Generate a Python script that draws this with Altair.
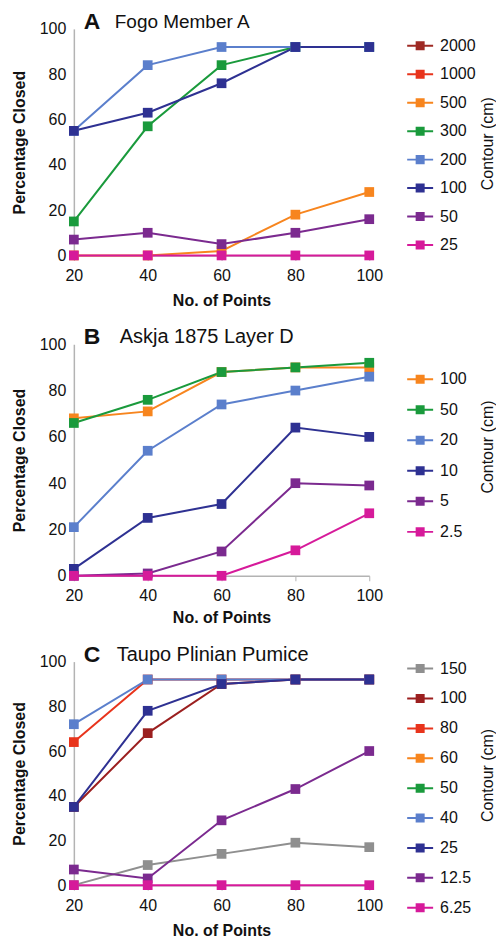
import altair as alt
import pandas as pd

FONT = "Liberation Sans"
x_points = [20, 40, 60, 80, 100]
y_ticks = [0, 20, 40, 60, 80, 100]

# Panel A: Fogo Member A
a_contours = ["2000", "1000", "500", "300", "200", "100", "50", "25"]
a_colors = ["#9e2a24", "#e8341c", "#f7851e", "#1a9a3c", "#5b7fcc", "#2e3192", "#7b2a8f", "#d61a9a"]
a_500 = [0, 0, 2, 18, 28]
a_300 = [15, 57, 84, 92, 92]
a_200 = [55, 84, 92, 92, 92]
a_100 = [55, 63, 76, 92, 92]
a_50 = [7, 10, 5, 10, 16]
a_25 = [0, 0, 0, 0, 0]

# Panel B: Askja 1875 Layer D
b_contours = ["100", "50", "20", "10", "5", "2.5"]
b_colors = ["#f7851e", "#1a9a3c", "#5b7fcc", "#2e3192", "#7b2a8f", "#d61a9a"]
b_100 = [68, 71, 88, 90, 90]
b_50 = [66, 76, 88, 90, 92]
b_20 = [21, 54, 74, 80, 86]
b_10 = [3, 25, 31, 64, 60]
b_5 = [0, 1, 10.5, 40, 39]
b_2_5 = [0, 0, 0, 11, 27]

# Panel C: Taupo Plinian Pumice
c_contours = ["150", "100", "80", "60", "50", "40", "25", "12.5", "6.25"]
c_colors = ["#8f8f8f", "#9b1f1f", "#e8341c", "#f7851e", "#1a9a3c", "#5b7fcc", "#2e3192", "#7b2a8f", "#d61a9a"]
c_150 = [0, 9, 14, 19, 17]
c_100 = [35, 68, 90, 92, 92]
c_80 = [64, 92, 92, 92, 92]
c_40 = [72, 92, 92, 92, 92]
c_25 = [35, 78, 90, 92, 92]
c_12_5 = [7, 3, 29, 43, 60]
c_6_25 = [0, 0, 0, 0, 0]

legend_title = "Contour (cm)"
SYMBOL = "M-1,0H1M-0.27,-0.27H0.27V0.27H-0.27Z"


def long_df(series):
    rows = []
    for name, vals in series:
        for xv, yv in zip(x_points, vals):
            rows.append({"contour": name, "points": xv, "pct": yv})
    return pd.DataFrame(rows)


def panel(letter, title, contours, colors, series, height, leg_y, row_pad,
          name_x, name_size, ltitle_y, xtitle_pad):
    df = long_df(series)
    scale = alt.Scale(domain=contours, range=colors)
    legend = alt.Legend(
        title=None, orient="none", legendX=333, legendY=leg_y,
        symbolType=SYMBOL, symbolSize=676, symbolStrokeWidth=2, symbolOpacity=1,
        labelFont=FONT, labelFontSize=16, labelColor="#111", labelOffset=6,
        rowPadding=row_pad, padding=0,
    )
    x = alt.X("points:Q", scale=alt.Scale(domain=[20, 100], nice=False, zero=False),
              axis=alt.Axis(values=x_points, title="No. of Points", grid=False,
                            domainColor="#b3b3b3", domainWidth=1.5, tickColor="#b3b3b3",
                            tickSize=5, labelPadding=7, labelFlush=False,
                            titlePadding=xtitle_pad, format="d"))
    y = alt.Y("pct:Q", scale=alt.Scale(domain=[0, 100], nice=False),
              axis=alt.Axis(values=y_ticks, title="Percentage Closed", grid=False,
                            ticks=False, domainColor="#b3b3b3", domainWidth=1.5,
                            labelPadding=8, titlePadding=12))
    lines = alt.Chart(df).mark_line(strokeWidth=2).encode(
        x=x, y=y, stroke=alt.Stroke("contour:N", scale=scale, legend=legend))
    pts = alt.Chart(df).mark_square(size=95, opacity=1).encode(
        x=x, y=y, fill=alt.Fill("contour:N", scale=scale, legend=legend))
    tdf = pd.DataFrame({"letter": [letter], "name": [title], "lt": [legend_title]})
    t1 = alt.Chart(tdf).mark_text(align="left", baseline="middle", font=FONT,
                                  fontSize=23, fontWeight="bold", color="#111").encode(
        text="letter:N", x=alt.value(10), y=alt.value(-7))
    t2 = alt.Chart(tdf).mark_text(align="left", baseline="middle", font=FONT,
                                  fontSize=name_size, color="#111").encode(
        text="name:N", x=alt.value(name_x), y=alt.value(-7))
    t3 = alt.Chart(tdf).mark_text(align="center", baseline="middle", font=FONT,
                                  fontSize=16, angle=270, color="#111").encode(
        text="lt:N", x=alt.value(415), y=alt.value(ltitle_y))
    return alt.layer(lines, pts, t1, t2, t3).properties(width=296, height=height)


pa = panel("A", "Fogo Member A", a_contours, a_colors,
           [("500", a_500), ("300", a_300), ("200", a_200), ("100", a_100), ("50", a_50), ("25", a_25)],
           227, 3, 6.5, 41, 19, 115, 9)
pb = panel("B", "Askja 1875 Layer D", b_contours, b_colors,
           [("100", b_100), ("50", b_50), ("20", b_20), ("10", b_10), ("5", b_5), ("2.5", b_2_5)],
           232, 21, 8.6, 46, 20, 103, 6)
pc = panel("C", "Taupo Plinian Pumice", c_contours, c_colors,
           [("150", c_150), ("100", c_100), ("80", c_80), ("40", c_40), ("25", c_25),
            ("12.5", c_12_5), ("6.25", c_6_25)],
           224, -7, 7.95, 43, 20, 114, 9)

chart = alt.vconcat(pa, pb, pc, spacing=18).resolve_scale(
    fill="independent", stroke="independent"
).resolve_legend(fill="independent", stroke="independent").configure(
    padding={"left": 11, "top": 10, "right": 0, "bottom": 0}
).configure_view(stroke=None).configure_axis(
    labelFont=FONT, labelFontSize=16, labelColor="#111",
    titleFont=FONT, titleFontSize=16, titleFontWeight="bold", titleColor="#111"
)

chart.save("out.html", embed_options={"renderer": "svg", "actions": False})
